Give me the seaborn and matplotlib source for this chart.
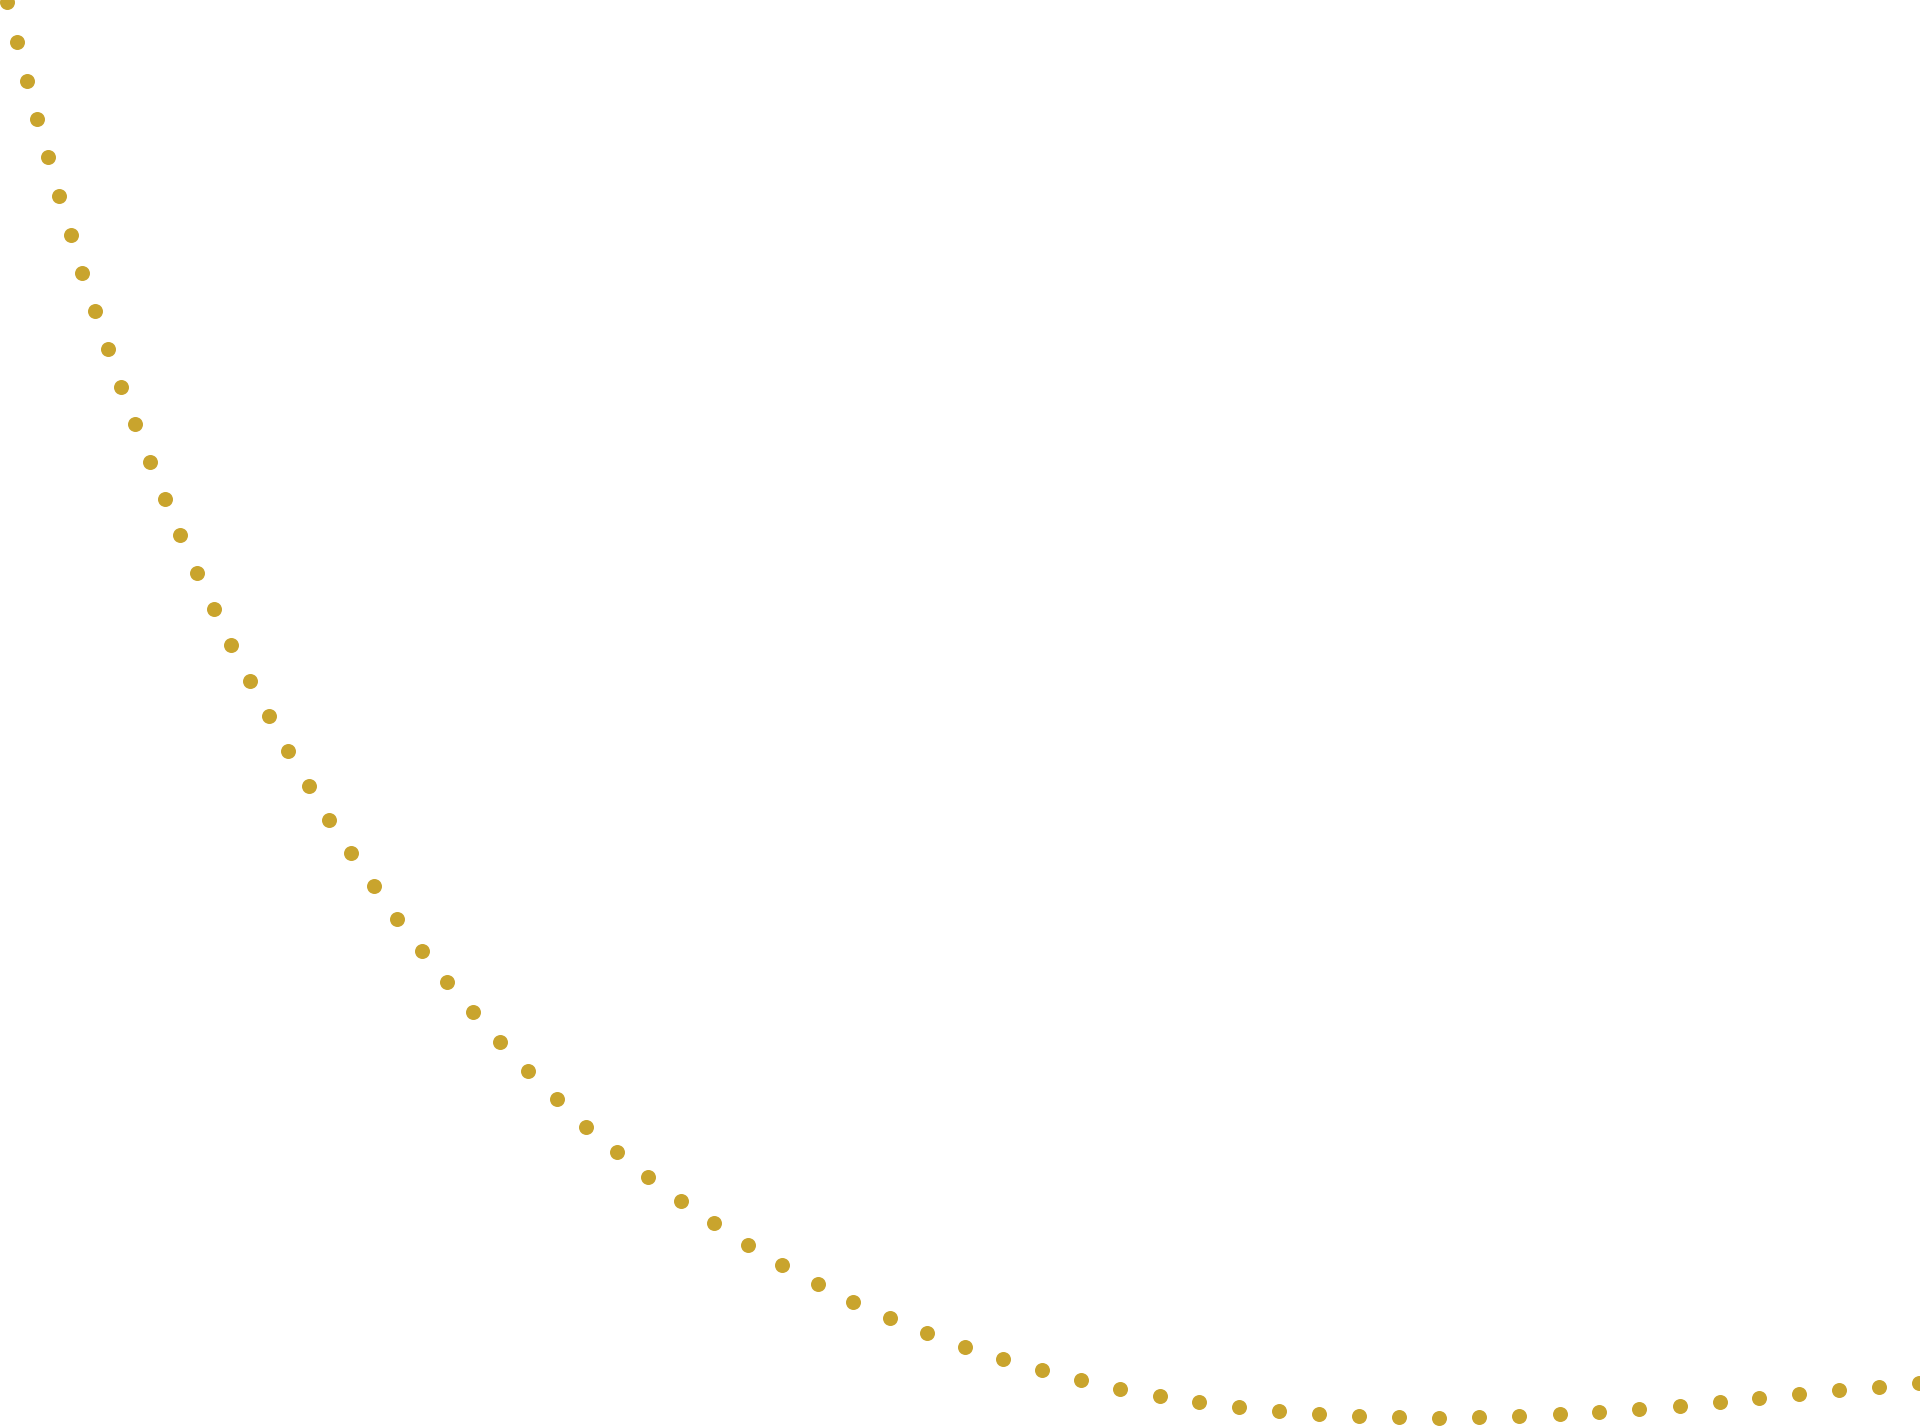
"""
Gold dotted curve on a blank canvas (decorative, no axes).
"""

import matplotlib
matplotlib.use("Agg")
import matplotlib.pyplot as plt
import numpy as np
import pandas as pd
import seaborn as sns

DOT_COLOR = "#C9A42D"

# Dot centres, in canvas pixels (y grows downward)
curve_x = [
    6.5, 16.7, 27.0, 37.0, 47.7, 59.0, 70.7, 82.3, 94.7, 108.0,
    121.3, 135.0, 150.0, 165.0, 180.3, 196.7, 214.0, 231.3, 249.7, 268.7,
    288.0, 308.7, 329.3, 351.3, 374.0, 397.3, 422.0, 447.3, 473.3, 500.0,
    527.7, 556.7, 586.0, 617.0, 648.0, 680.7, 713.7, 747.7, 782.0, 817.7,
    853.3, 890.3, 927.3, 965.0, 1003.0, 1042.0, 1081.0, 1120.0, 1159.7, 1199.0,
    1238.7, 1279.0, 1319.0, 1359.0, 1399.0, 1439.0, 1479.3, 1519.3, 1559.7, 1599.3,
    1639.3, 1679.7, 1719.7, 1759.3, 1799.3, 1839.3, 1879.3, 1919.0,
]
curve_y = [
    2.0, 41.7, 80.7, 119.0, 157.0, 196.3, 235.0, 273.0, 311.0, 349.3,
    387.0, 423.7, 462.0, 499.0, 535.3, 572.7, 609.0, 644.7, 680.7, 716.0,
    750.7, 785.7, 819.7, 853.3, 886.3, 918.7, 950.7, 982.0, 1012.3, 1042.3,
    1071.0, 1099.3, 1127.0, 1152.0, 1177.0, 1201.0, 1223.3, 1245.0, 1265.3, 1284.3,
    1301.7, 1318.3, 1333.3, 1347.0, 1359.3, 1370.3, 1380.0, 1388.7, 1396.0, 1402.3,
    1407.0, 1411.3, 1414.3, 1416.3, 1417.3, 1417.7, 1417.3, 1416.0, 1414.0, 1411.7,
    1409.0, 1405.7, 1402.0, 1398.3, 1394.3, 1390.3, 1386.7, 1383.0,
]

CANVAS_W, CANVAS_H = 1920, 1426
DPI = 100

df = pd.DataFrame({"x": curve_x, "y": curve_y})

sns.set_theme(style="white")

fig = plt.figure(figsize=(CANVAS_W / DPI, CANVAS_H / DPI), dpi=DPI)
fig.patch.set_facecolor("white")
ax = fig.add_axes([0, 0, 1, 1])

# dot diameter ~15 px -> points at 100 dpi
dot_pt = 15 * 72 / DPI
sns.scatterplot(
    data=df, x="x", y="y", ax=ax,
    color=DOT_COLOR, s=dot_pt ** 2, linewidth=0, legend=False,
)

ax.set_xlim(0, CANVAS_W)
ax.set_ylim(CANVAS_H, 0)
ax.set_axis_off()

fig.savefig("out.png", dpi=DPI, facecolor="white")
plt.close(fig)
